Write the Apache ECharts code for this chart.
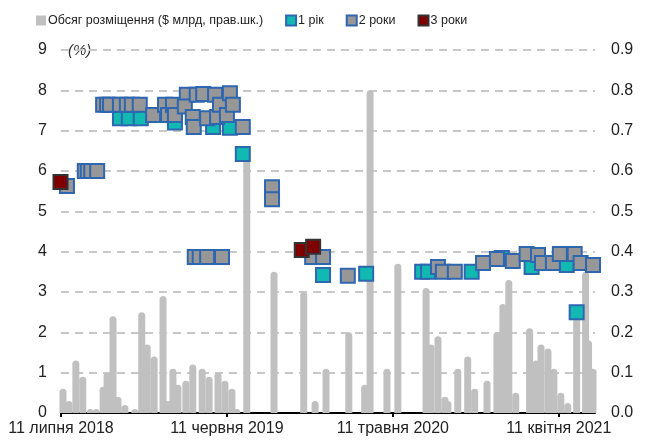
<!DOCTYPE html>
<html>
<head>
<meta charset="utf-8">
<script src="https://cdn.jsdelivr.net/npm/echarts@6/dist/echarts.min.js"></script>
<style>
  html, body { margin: 0; padding: 0; background: #fff; }
  #chart { width: 646px; height: 447px; }
</style>
</head>
<body>
<div id="chart"></div>
<script>
let FONT = "'Liberation Sans Narrow', 'Liberation Sans', sans-serif";

let seriesNames = ['Обсяг розміщення ($ млрд, прав.шк.)', '1 рік', '2 роки', '3 роки'];

let tickDates = ['2018-07-11', '2019-06-11', '2020-05-11', '2021-04-11'];
let tickLabels = ['11 липня 2018', '11 червня 2019', '11 травня 2020', '11 квітня 2021'];

// обсяг розміщення, $ млрд (права шкала)
let volumeDates = [
  '2018-07-15', '2018-07-27', '2018-08-10', '2018-08-24', '2018-09-08', '2018-09-20',
  '2018-10-04', '2018-10-12', '2018-10-24', '2018-11-03', '2018-11-17', '2018-12-07',
  '2018-12-21', '2019-01-01', '2019-01-15', '2019-02-02', '2019-02-12', '2019-02-22',
  '2019-03-04', '2019-03-20', '2019-04-03', '2019-04-22', '2019-05-06', '2019-05-24',
  '2019-06-07', '2019-06-21', '2019-07-01', '2019-07-21', '2019-09-14', '2019-11-13',
  '2019-12-06', '2019-12-28', '2020-02-12', '2020-03-15', '2020-03-26', '2020-04-29',
  '2020-05-21', '2020-07-17', '2020-07-27', '2020-08-10', '2020-08-24', '2020-08-30',
  '2020-09-19', '2020-10-09', '2020-10-23', '2020-11-17', '2020-12-07', '2020-12-19',
  '2020-12-31', '2021-01-14', '2021-02-11', '2021-02-24', '2021-03-06', '2021-03-20',
  '2021-04-01', '2021-04-15', '2021-04-29', '2021-05-17', '2021-06-04', '2021-06-10',
  '2021-06-19'
];
let volumeValues = [
  0.06, 0.03, 0.13, 0.09, 0.01, 0.01,
  0.065, 0.10, 0.24, 0.04, 0.02, 0.01,
  0.25, 0.17, 0.14, 0.29, 0.03, 0.11,
  0.07, 0.08, 0.12, 0.11, 0.09, 0.10,
  0.08, 0.06, 0.01, 0.63, 0.35, 0.30,
  0.03, 0.11, 0.20, 0.07, 0.80, 0.11,
  0.37, 0.31, 0.17, 0.19, 0.04, 0.03,
  0.11, 0.14, 0.06, 0.08, 0.20, 0.27,
  0.33, 0.05, 0.21, 0.13, 0.17, 0.16,
  0.11, 0.05, 0.025, 0.26, 0.35, 0.18,
  0.11
];

// дохідність, % (ліва шкала)
let oneYearDates = [
  '2018-11-07', '2018-11-25', '2018-12-19', '2019-02-26', '2019-05-14', '2019-06-17',
  '2019-07-13', '2019-12-22', '2020-03-18', '2020-07-09', '2020-07-21', '2020-10-17',
  '2020-12-17', '2021-02-15', '2021-04-27', '2021-05-17'
];
let oneYearValues = [
  7.31, 7.31, 7.31, 7.2, 7.09, 7.07,
  6.42, 3.42, 3.45, 3.5, 3.5, 3.5,
  3.84, 3.62, 3.67, 2.5
];

let twoYearDates = [
  '2018-07-23', '2018-08-28', '2018-09-03', '2018-09-10', '2018-09-22', '2018-10-04',
  '2018-10-12', '2018-10-18', '2018-11-07', '2018-11-21', '2018-12-01', '2018-12-17',
  '2019-01-13', '2019-02-06', '2019-02-12', '2019-02-22', '2019-02-26', '2019-03-22',
  '2019-03-18', '2019-04-03', '2019-04-05', '2019-04-11', '2019-04-24', '2019-05-02',
  '2019-05-18', '2019-05-22', '2019-05-28', '2019-06-11', '2019-06-17', '2019-06-23',
  '2019-07-13', '2019-09-10', '2019-09-10', '2019-04-07', '2019-04-17', '2019-05-02',
  '2019-06-01', '2019-11-30', '2019-12-22', '2020-02-10', '2020-08-10', '2020-08-20',
  '2020-09-13', '2020-11-09', '2020-12-07', '2021-01-08', '2021-02-05', '2021-02-28',
  '2021-03-08', '2021-03-30', '2021-04-13', '2021-05-13', '2021-05-25', '2021-06-19'
];
let twoYearValues = [
  5.63, 6.0, 6.0, 6.0, 6.0, 7.64,
  7.64, 7.64, 7.64, 7.64, 7.64, 7.64,
  7.39, 7.64, 7.39, 7.64, 7.39, 7.89,
  7.6, 7.34, 7.09, 7.89, 7.91, 7.31,
  7.89, 7.34, 7.64, 7.39, 7.93, 7.64,
  7.09, 5.6, 5.3, 3.87, 3.87, 3.87,
  3.87, 3.87, 3.87, 3.4, 3.62, 3.5,
  3.5, 3.72, 3.82, 3.77, 3.94, 3.92,
  3.72, 3.72, 3.94, 3.94, 3.72, 3.67
];

let threeYearDates = ['2018-07-10', '2019-11-09', '2019-12-02'];
let threeYearValues = [5.73, 4.04, 4.12];

function toTime(s) {
  return new Date(s + 'T00:00:00Z').getTime();
}

function pairs(dates, values) {
  return dates.map((d, i) => [toTime(d), values[i]]);
}

let xMin = toTime('2018-07-11');
let xMax = toTime('2021-06-23');
let tickValues = tickDates.map(toTime);

let chart = echarts.init(document.getElementById('chart'));

let squareStyle = function (fill, border) {
  return {
    color: fill,
    borderColor: border,
    borderWidth: 2,
    opacity: 1
  };
};

let option = {
  animation: false,
  textStyle: { fontFamily: FONT },
  legend: {
    left: 31,
    top: 9,
    itemWidth: 10,
    itemHeight: 10,
    itemGap: 22,
    textStyle: { fontFamily: FONT, fontSize: 12.5, color: '#222', padding: [0, 0, 0, -3] },
    data: [
      { name: seriesNames[0], icon: 'rect', itemStyle: { color: '#c0c0c0', borderWidth: 0 } },
      { name: seriesNames[1], icon: 'rect' },
      { name: seriesNames[2], icon: 'rect' },
      { name: seriesNames[3], icon: 'rect' }
    ]
  },
  grid: {
    left: 61,
    right: 51,
    top: 50,
    bottom: 34
  },
  graphic: [{
    type: 'text',
    left: 68,
    top: 43,
    style: {
      text: '(%)',
      font: 'italic 15px ' + FONT,
      fill: '#333'
    }
  }],
  xAxis: {
    type: 'value',
    min: xMin,
    max: xMax,
    axisLine: { lineStyle: { color: '#000', width: 2 } },
    axisTick: {
      show: true,
      customValues: tickValues,
      length: 4,
      inside: false,
      lineStyle: { color: '#000', width: 2 }
    },
    axisLabel: {
      customValues: tickValues,
      formatter: function (v) {
        let i = tickValues.indexOf(v);
        return i >= 0 ? tickLabels[i] : '';
      },
      fontFamily: FONT,
      fontSize: 16,
      color: '#222',
      margin: 8
    },
    splitLine: { show: false }
  },
  yAxis: [
    {
      type: 'value',
      min: 0,
      max: 9,
      interval: 1,
      axisLine: { show: false },
      axisTick: { show: false },
      axisLabel: { fontFamily: FONT, fontSize: 16, color: '#222', margin: 14 },
      splitLine: {
        show: true,
        lineStyle: { color: '#c8c8c8', width: 2, type: [8, 6] }
      }
    },
    {
      type: 'value',
      min: 0,
      max: 0.9,
      interval: 0.1,
      position: 'right',
      axisLine: { show: false },
      axisTick: { show: false },
      axisLabel: {
        fontFamily: FONT,
        fontSize: 16,
        color: '#222',
        margin: 16,
        formatter: v => v.toFixed(1)
      },
      splitLine: { show: false }
    }
  ],
  series: [
    {
      name: seriesNames[0],
      type: 'bar',
      yAxisIndex: 1,
      barWidth: 7,
      barGap: '-100%',
      itemStyle: { color: '#c0c0c0', borderRadius: [4, 4, 0, 0] },
      data: pairs(volumeDates, volumeValues)
    },
    {
      name: seriesNames[1],
      type: 'scatter',
      yAxisIndex: 0,
      symbol: 'rect',
      symbolSize: 14,
      clip: false,
      itemStyle: squareStyle('#12b8b2', '#2f66b0'),
      data: pairs(oneYearDates, oneYearValues)
    },
    {
      name: seriesNames[2],
      type: 'scatter',
      yAxisIndex: 0,
      symbol: 'rect',
      symbolSize: 14,
      clip: false,
      itemStyle: squareStyle('#979797', '#2f66b0'),
      data: pairs(twoYearDates, twoYearValues)
    },
    {
      name: seriesNames[3],
      type: 'scatter',
      yAxisIndex: 0,
      symbol: 'rect',
      symbolSize: 14,
      clip: false,
      itemStyle: squareStyle('#7f0000', '#333333'),
      data: pairs(threeYearDates, threeYearValues)
    }
  ]
};

chart.setOption(option);
</script>
</body>
</html>
